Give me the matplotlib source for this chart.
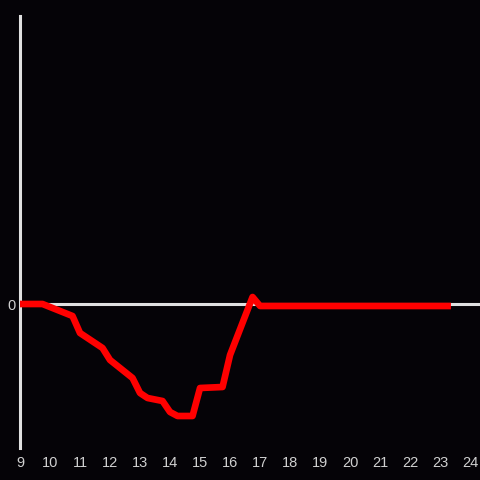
import matplotlib.pyplot as plt

# hours of the day (15 min steps) and the value at each
hours = [9.0, 9.25, 9.5, 9.75, 10.75, 11.0, 11.75, 12.0, 12.75, 13.0, 13.25,
         13.75, 14.0, 14.25, 14.75, 15.0, 15.75, 16.0, 16.75, 17.0, 23.25]
values = [0, 0, 0, 0, -12, -29, -44, -56, -74, -89, -94,
          -97, -108, -112, -112, -84, -83, -51, 7, -2, -2]
x_ticks = list(range(9, 25))

bg = '#050307'
fg = '#e0e0e0'

fig = plt.figure(figsize=(4.8, 4.8), dpi=100, facecolor=bg)
ax = fig.add_axes([20 / 480, 32 / 480, 460 / 480, 432 / 480], facecolor=bg)

ax.axhline(0, color=fg, lw=2.2, zorder=1)
ax.plot(hours, values, color='#ff0000', lw=4.8, solid_capstyle='projecting',
        solid_joinstyle='round', zorder=3)

ax.set_xlim(9, 24.33)
ax.set_ylim(-144, 288)

for side in ['top', 'right', 'bottom']:
    ax.spines[side].set_visible(False)
ax.spines['left'].set_color(fg)
ax.spines['left'].set_linewidth(2.2)

ax.set_xticks(x_ticks)
ax.set_xticklabels([str(t) for t in x_ticks])
ax.set_yticks([0])
ax.set_yticklabels(['0'])
ax.tick_params(axis='both', length=0, colors='#d0d0d0', labelsize=10.5,
               labelfontfamily='Liberation Sans')
ax.tick_params(axis='x', pad=6)
ax.tick_params(axis='y', pad=3)

fig.savefig('out.png', dpi=100, facecolor=bg)
